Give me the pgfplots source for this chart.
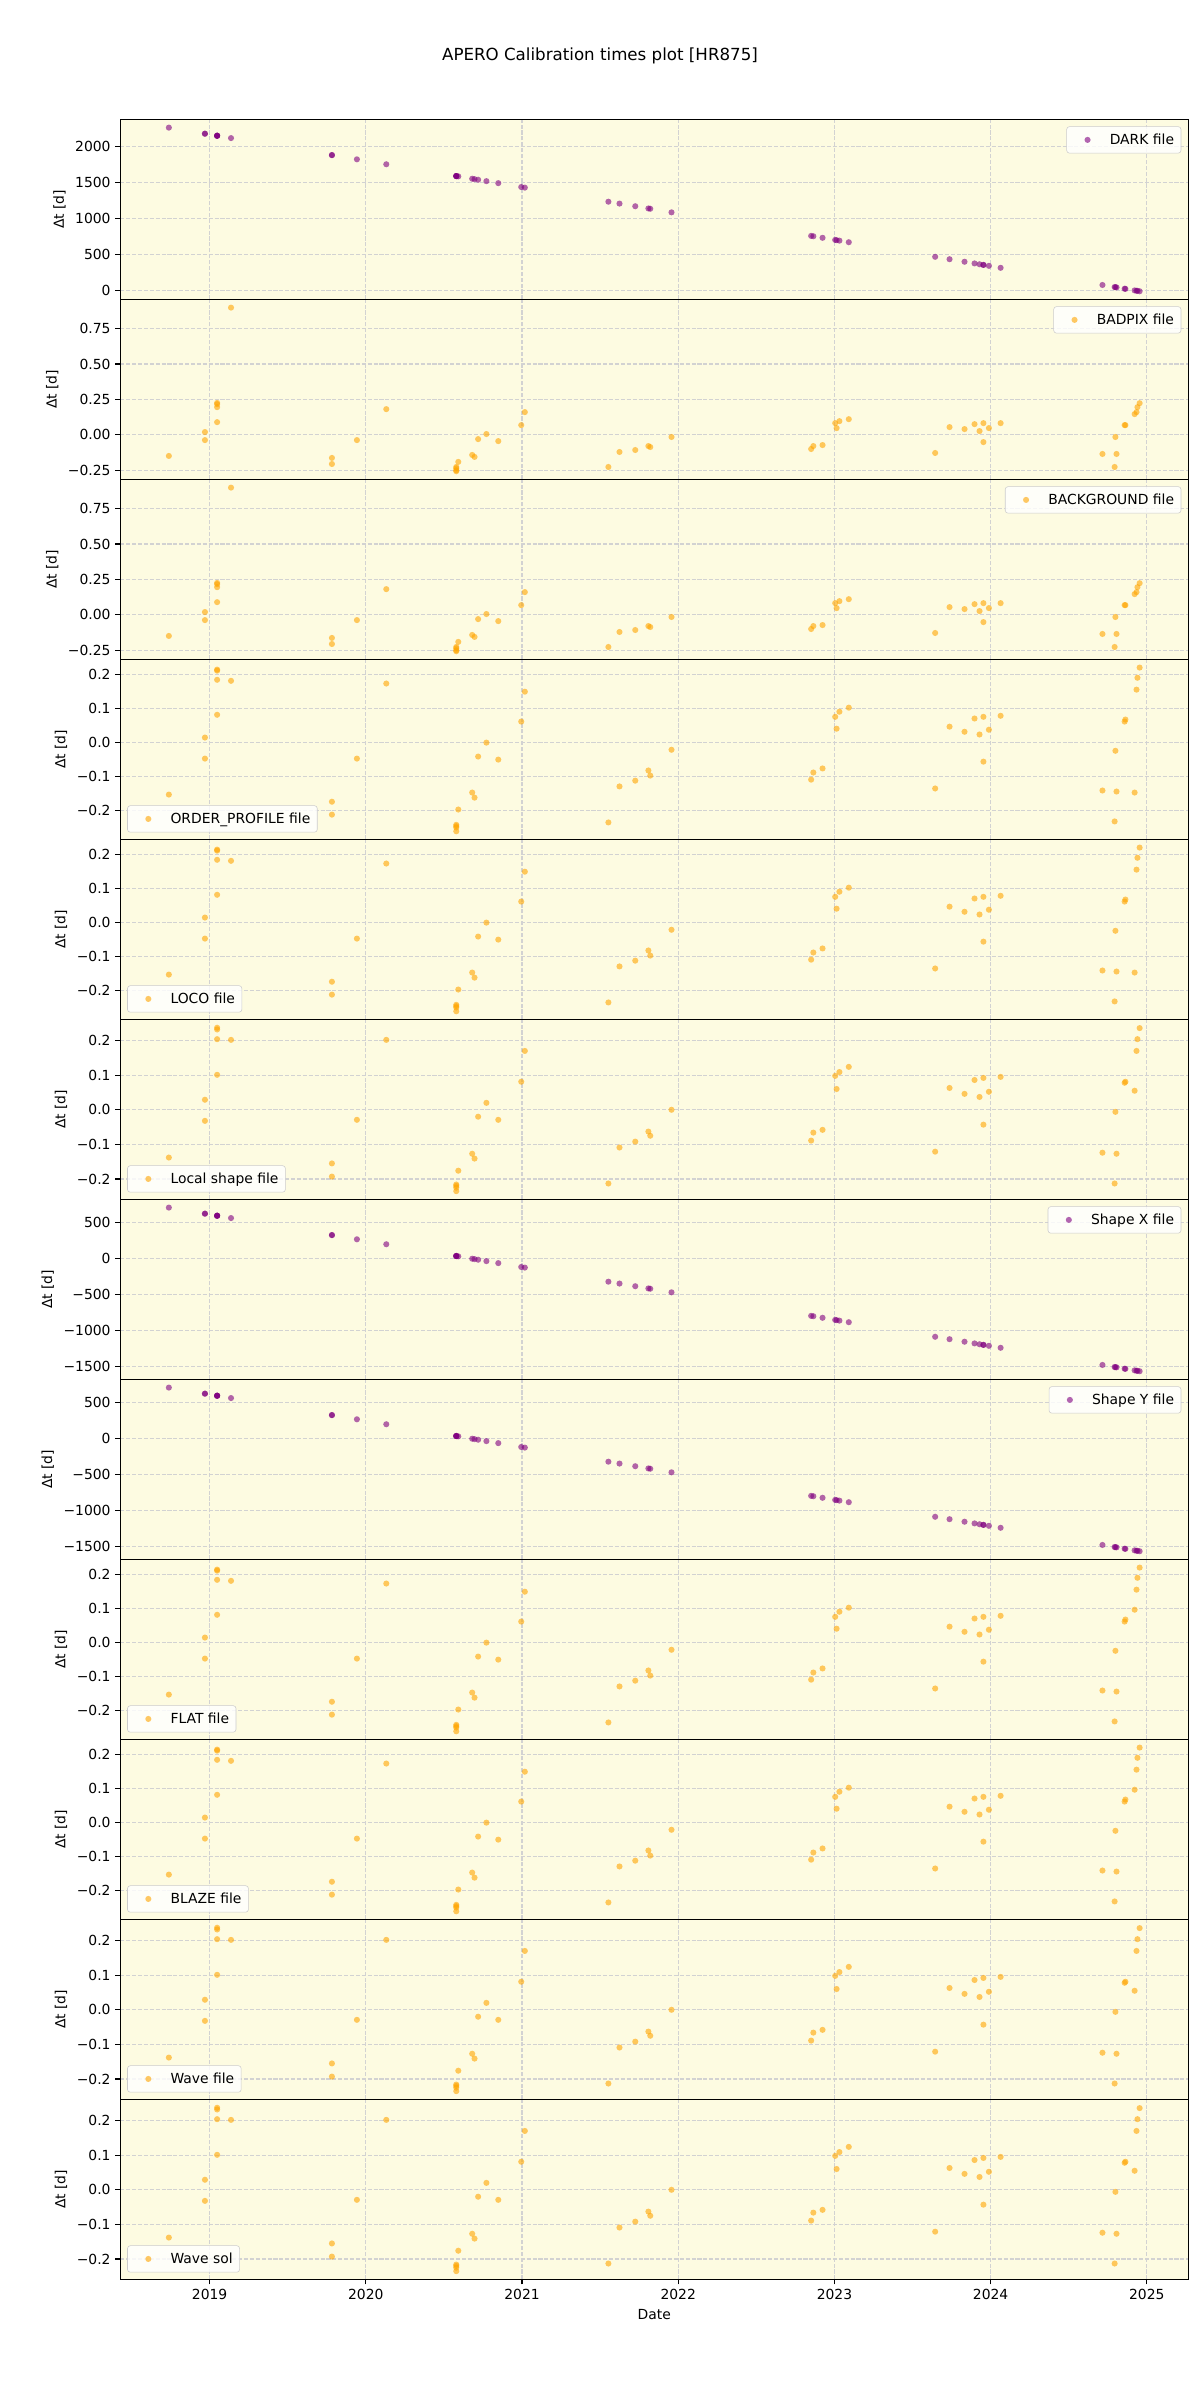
\documentclass[border=0pt]{standalone}
\usepackage{fontspec}
\setmainfont{DejaVu Sans}
\usepackage{pgfplots}
\usepackage{pgfplotstable}
\pgfplotsset{compat=1.18}

\definecolor{mpurple}{HTML}{800080}
\definecolor{morange}{HTML}{FFA500}
\definecolor{bgyel}{HTML}{FDFBE1}
\definecolor{gridc}{HTML}{D2D2D2}
\definecolor{legc}{HTML}{CCCCCC}

% dark reference file
\pgfplotstableread{
x y
2018.739 2264.2
2018.970 2179.8
2018.970 2179.8
2019.048 2151.3
2019.048 2151.3
2019.048 2151.3
2019.048 2151.3
2019.137 2118.8
2019.783 1882.9
2019.783 1882.9
2019.943 1824.4
2020.131 1755.7
2020.579 1592.1
2020.579 1592.1
2020.579 1592.1
2020.579 1592.1
2020.592 1587.4
2020.681 1554.9
2020.696 1549.4
2020.719 1541.0
2020.772 1521.6
2020.848 1493.9
2020.995 1440.2
2021.018 1431.8
2021.553 1236.4
2021.624 1210.4
2021.725 1173.6
2021.809 1142.9
2021.821 1138.5
2021.957 1088.8
2022.851 762.3
2022.865 757.2
2022.924 735.6
2023.005 706.0
2023.014 702.7
2023.032 696.2
2023.092 674.3
2023.645 472.3
2023.737 438.7
2023.833 403.6
2023.897 380.2
2023.929 368.5
2023.954 359.4
2023.954 359.4
2023.989 346.6
2024.064 319.2
2024.716 81.1
2024.794 52.6
2024.799 50.8
2024.806 48.2
2024.858 29.2
2024.863 27.4
2024.922 5.8
2024.934 1.5
2024.940 -0.7
2024.954 -5.8
}\darktab

% shape x / y files
\pgfplotstableread{
x y
2018.739 706.8
2018.970 622.4
2018.970 622.4
2019.048 593.9
2019.048 593.9
2019.048 593.9
2019.048 593.9
2019.137 561.4
2019.783 325.4
2019.783 325.4
2019.943 267.0
2020.131 198.3
2020.579 34.7
2020.579 34.7
2020.579 34.7
2020.579 34.7
2020.592 30.0
2020.681 -2.6
2020.696 -8.0
2020.719 -16.4
2020.772 -35.8
2020.848 -63.6
2020.995 -117.2
2021.018 -125.6
2021.553 -321.1
2021.624 -347.0
2021.725 -383.9
2021.809 -414.6
2021.821 -418.9
2021.957 -468.6
2022.851 -795.2
2022.865 -800.3
2022.924 -821.8
2023.005 -851.4
2023.014 -854.7
2023.032 -861.3
2023.092 -883.2
2023.645 -1085.2
2023.737 -1118.8
2023.833 -1153.8
2023.897 -1177.2
2023.929 -1188.9
2023.954 -1198.0
2023.954 -1198.0
2023.989 -1210.8
2024.064 -1238.2
2024.716 -1476.3
2024.794 -1504.8
2024.799 -1506.7
2024.806 -1509.2
2024.858 -1528.2
2024.863 -1530.0
2024.922 -1551.6
2024.934 -1556.0
2024.940 -1558.2
2024.954 -1563.3
}\shapetab

% badpix / background
\pgfplotstableread{
x y
2018.739 -0.150
2018.970 0.019
2018.970 -0.038
2019.048 0.225
2019.048 0.216
2019.048 0.195
2019.048 0.089
2019.137 0.899
2019.783 -0.164
2019.783 -0.207
2019.943 -0.038
2020.131 0.181
2020.579 -0.228
2020.579 -0.237
2020.579 -0.251
2020.579 -0.258
2020.592 -0.192
2020.681 -0.143
2020.696 -0.157
2020.719 -0.031
2020.772 0.005
2020.848 -0.045
2020.995 0.068
2021.018 0.160
2021.553 -0.228
2021.624 -0.122
2021.725 -0.108
2021.809 -0.080
2021.821 -0.087
2021.957 -0.016
2022.851 -0.101
2022.865 -0.080
2022.924 -0.073
2023.005 0.082
2023.014 0.047
2023.032 0.096
2023.092 0.110
2023.645 -0.129
2023.737 0.054
2023.833 0.040
2023.897 0.075
2023.929 0.026
2023.954 0.082
2023.954 -0.052
2023.989 0.047
2024.064 0.082
2024.716 -0.136
2024.794 -0.228
2024.799 -0.016
2024.806 -0.136
2024.858 0.068
2024.863 0.068
2024.922 0.146
2024.934 0.160
2024.940 0.195
2024.954 0.223
}\badtab

% order profile / loco
\pgfplotstableread{
x y
2018.739 -0.153
2018.970 0.015
2018.970 -0.047
2019.048 0.215
2019.048 0.212
2019.048 0.185
2019.048 0.082
2019.137 0.182
2019.783 -0.174
2019.783 -0.212
2019.943 -0.047
2020.131 0.174
2020.579 -0.242
2020.579 -0.246
2020.579 -0.250
2020.579 -0.261
2020.592 -0.197
2020.681 -0.147
2020.696 -0.162
2020.719 -0.041
2020.772 0.000
2020.848 -0.050
2020.995 0.062
2021.018 0.150
2021.553 -0.235
2021.624 -0.129
2021.725 -0.112
2021.809 -0.082
2021.821 -0.097
2021.957 -0.021
2022.851 -0.109
2022.865 -0.088
2022.924 -0.076
2023.005 0.076
2023.014 0.041
2023.032 0.091
2023.092 0.103
2023.645 -0.135
2023.737 0.047
2023.833 0.032
2023.897 0.071
2023.929 0.024
2023.954 0.076
2023.954 -0.056
2023.989 0.038
2024.064 0.079
2024.716 -0.141
2024.794 -0.232
2024.799 -0.024
2024.806 -0.144
2024.858 0.062
2024.863 0.068
2024.922 -0.147
2024.934 0.156
2024.940 0.191
2024.954 0.221
}\ordtab

% flat / blaze
\pgfplotstableread{
x y
2018.739 -0.153
2018.970 0.015
2018.970 -0.047
2019.048 0.215
2019.048 0.212
2019.048 0.185
2019.048 0.082
2019.137 0.182
2019.783 -0.174
2019.783 -0.212
2019.943 -0.047
2020.131 0.174
2020.579 -0.242
2020.579 -0.246
2020.579 -0.250
2020.579 -0.261
2020.592 -0.197
2020.681 -0.147
2020.696 -0.162
2020.719 -0.041
2020.772 0.000
2020.848 -0.050
2020.995 0.062
2021.018 0.150
2021.553 -0.235
2021.624 -0.129
2021.725 -0.112
2021.809 -0.082
2021.821 -0.097
2021.957 -0.021
2022.851 -0.109
2022.865 -0.088
2022.924 -0.076
2023.005 0.076
2023.014 0.041
2023.032 0.091
2023.092 0.103
2023.645 -0.135
2023.737 0.047
2023.833 0.032
2023.897 0.071
2023.929 0.024
2023.954 0.076
2023.954 -0.056
2023.989 0.038
2024.064 0.079
2024.716 -0.141
2024.794 -0.232
2024.799 -0.024
2024.806 -0.144
2024.858 0.062
2024.863 0.068
2024.922 0.097
2024.934 0.156
2024.940 0.191
2024.954 0.221
}\flattab

% local shape / wave
\pgfplotstableread{
x y
2018.739 -0.138
2018.970 0.029
2018.970 -0.032
2019.048 0.237
2019.048 0.232
2019.048 0.204
2019.048 0.101
2019.137 0.202
2019.783 -0.155
2019.783 -0.193
2019.943 -0.029
2020.131 0.202
2020.579 -0.216
2020.579 -0.220
2020.579 -0.225
2020.579 -0.235
2020.592 -0.176
2020.681 -0.127
2020.696 -0.141
2020.719 -0.020
2020.772 0.020
2020.848 -0.029
2020.995 0.081
2021.018 0.170
2021.553 -0.213
2021.624 -0.109
2021.725 -0.092
2021.809 -0.063
2021.821 -0.075
2021.957 0.000
2022.851 -0.089
2022.865 -0.066
2022.924 -0.058
2023.005 0.098
2023.014 0.060
2023.032 0.109
2023.092 0.124
2023.645 -0.121
2023.737 0.063
2023.833 0.046
2023.897 0.086
2023.929 0.037
2023.954 0.092
2023.954 -0.043
2023.989 0.052
2024.064 0.095
2024.716 -0.124
2024.794 -0.213
2024.799 -0.006
2024.806 -0.127
2024.858 0.078
2024.863 0.081
2024.922 0.055
2024.934 0.170
2024.940 0.204
2024.954 0.236
}\loctab

\pgfplotsset{
  panel/.style={
    scale only axis, width=768.9pt, height=129.6pt,
    xmin=2018.428, xmax=2025.265,
    axis background/.style={fill=bgyel},
    xmajorgrids, ymajorgrids,
    grid style={line width=0.8pt, dash pattern=on 2.96pt off 1.28pt, color=gridc},
    xtick={2019,2020,2021,2022,2023,2024,2025}, xticklabels={},
    tick align=outside, tick pos=left, major tick length=3.5pt,
    every tick/.style={black, line width=0.8pt},
    axis line style={line width=0.8pt},
    ylabel={Δt [d]},
    ticklabel style={font=\fontsize{10}{12}\selectfont},
    label style={font=\fontsize{10}{12}\selectfont},
    legend style={font=\fontsize{10}{12}\selectfont, draw=legc, rounded corners=2pt,
      fill=white, fill opacity=0.8, text opacity=1, inner sep=3pt},
    legend cell align=left,
    legend image code/.code={
      \path[draw=none, fill=none] (0pt,0pt) -- (26pt,0pt);
      \draw[##1] plot coordinates {(12pt,0pt)};},
  },
  ur/.style={legend style={at={(1,1)}, anchor=north east, xshift=-5pt, yshift=-5pt}},
  ll/.style={legend style={at={(0,0)}, anchor=south west, xshift=5pt, yshift=5pt}},
  pu/.style={only marks, mark=*, mark size=2.2pt,
    mark options={draw opacity=0, fill=mpurple, fill opacity=0.6}},
  og/.style={only marks, mark=*, mark size=2.2pt,
    mark options={draw opacity=0, fill=morange, fill opacity=0.6}},
  darky/.style={ymin=-119, ymax=2378, ytick={0,500,1000,1500,2000},
    yticklabels={0,500,1000,1500,2000}},
  shapey/.style={ymin=-1677, ymax=820, ytick={-1500,-1000,-500,0,500},
    yticklabels={−1500,−1000,−500,0,500}},
  bady/.style={ymin=-0.316, ymax=0.957, ytick={-0.25,0,0.25,0.5,0.75},
    yticklabels={−0.25,0.00,0.25,0.50,0.75}},
  ordy/.style={ymin=-0.285, ymax=0.245, ytick={-0.2,-0.1,0,0.1,0.2},
    yticklabels={−0.2,−0.1,0.0,0.1,0.2}},
  locy/.style={ymin=-0.259, ymax=0.261, ytick={-0.2,-0.1,0,0.1,0.2},
    yticklabels={−0.2,−0.1,0.0,0.1,0.2}},
}

\begin{document}
\begin{tikzpicture}
\path[use as bounding box] (0,0) rectangle (864pt,1728pt);
\node[font=\fontsize{12}{14}\selectfont] at (432pt,1688pt) {APERO Calibration times plot [HR875]};

\begin{axis}[panel, darky, ur, at={(86.6pt,1512.4pt)}, anchor=south west]
\addplot[pu] table {\darktab};
\addlegendentry{DARK file}
\end{axis}

\begin{axis}[panel, bady, ur, at={(86.6pt,1382.8pt)}, anchor=south west]
\addplot[og] table {\badtab};
\addlegendentry{BADPIX file}
\end{axis}

\begin{axis}[panel, bady, ur, at={(86.6pt,1253.2pt)}, anchor=south west]
\addplot[og] table {\badtab};
\addlegendentry{BACKGROUND file}
\end{axis}

\begin{axis}[panel, ordy, ll, at={(86.6pt,1123.6pt)}, anchor=south west]
\addplot[og] table {\ordtab};
\addlegendentry{ORDER\_PROFILE file}
\end{axis}

\begin{axis}[panel, ordy, ll, at={(86.6pt,994.0pt)}, anchor=south west]
\addplot[og] table {\ordtab};
\addlegendentry{LOCO file}
\end{axis}

\begin{axis}[panel, locy, ll, at={(86.6pt,864.4pt)}, anchor=south west]
\addplot[og] table {\loctab};
\addlegendentry{Local shape file}
\end{axis}

\begin{axis}[panel, shapey, ur, at={(86.6pt,734.8pt)}, anchor=south west]
\addplot[pu] table {\shapetab};
\addlegendentry{Shape X file}
\end{axis}

\begin{axis}[panel, shapey, ur, at={(86.6pt,605.2pt)}, anchor=south west]
\addplot[pu] table {\shapetab};
\addlegendentry{Shape Y file}
\end{axis}

\begin{axis}[panel, ordy, ll, at={(86.6pt,475.6pt)}, anchor=south west]
\addplot[og] table {\flattab};
\addlegendentry{FLAT file}
\end{axis}

\begin{axis}[panel, ordy, ll, at={(86.6pt,346.0pt)}, anchor=south west]
\addplot[og] table {\flattab};
\addlegendentry{BLAZE file}
\end{axis}

\begin{axis}[panel, locy, ll, at={(86.6pt,216.4pt)}, anchor=south west]
\addplot[og] table {\loctab};
\addlegendentry{Wave file}
\end{axis}

\begin{axis}[panel, locy, ll, at={(86.6pt,86.8pt)}, anchor=south west,
  xticklabels={2019,2020,2021,2022,2023,2024,2025}, xlabel={Date}]
\addplot[og] table {\loctab};
\addlegendentry{Wave sol}
\end{axis}
\end{tikzpicture}
\end{document}
